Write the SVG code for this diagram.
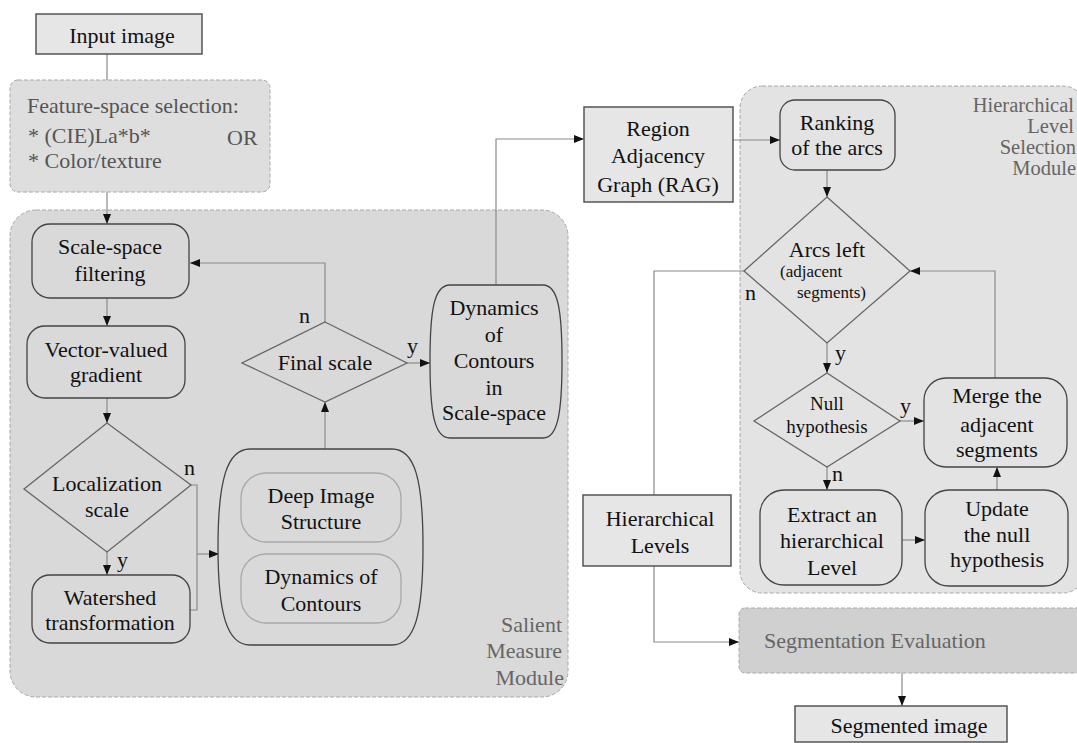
<svg xmlns="http://www.w3.org/2000/svg" width="1077" height="743" viewBox="0 0 1077 743" font-family="'Liberation Serif', 'Times New Roman', serif">
<defs>
<marker id="ah" markerWidth="10" markerHeight="8" refX="10" refY="4" orient="auto" markerUnits="userSpaceOnUse">
<path d="M0,0 L10,4 L0,8 Z" fill="#111"/>
</marker>
<style>
text{font-family:'Liberation Serif','Times New Roman',serif;font-size:22px;fill:#111;text-anchor:middle}
.mod{fill:#666}
.lbl{text-anchor:start}
.plain{fill:#e6e6e6;stroke:#555;stroke-width:1.5}
.cont{stroke:#a8a8a8;stroke-width:1;stroke-dasharray:4 2}
.proc{fill:#d9d9d9;stroke:#444;stroke-width:1.3}
.proc2{fill:#e3e3e3;stroke:#444;stroke-width:1.3}
.inner{fill:#d9d9d9;stroke:#a8a8a8;stroke-width:1.3}
.dia{fill:none;stroke:#666;stroke-width:1.3}
.conn{fill:none;stroke:#8a8a8a;stroke-width:1.2}
</style>
</defs>
<rect width="1077" height="743" fill="#ffffff"/>
<g font-family="'Liberation Serif', 'Times New Roman', serif" font-size="22" text-anchor="middle" fill="#111">

<g id="salient-module">
<rect class="cont" x="10" y="210" width="558" height="487" rx="26" fill="#d9d9d9"/>
<text class="mod" x="562" y="632" text-anchor="end" style="text-anchor:end">Salient</text>
<text class="mod" x="562" y="658" text-anchor="end" style="text-anchor:end">Measure</text>
<text class="mod" x="564" y="685" text-anchor="end" style="text-anchor:end">Module</text>
</g>
<g id="hier-module">
<rect class="cont" x="740" y="86" width="345" height="507" rx="22" fill="#e3e3e3"/>
<text class="mod" x="1074" y="112" text-anchor="end" style="text-anchor:end;font-size:20.5px">Hierarchical</text>
<text class="mod" x="1074" y="133" text-anchor="end" style="text-anchor:end;font-size:20.5px">Level</text>
<text class="mod" x="1076" y="154" text-anchor="end" style="text-anchor:end;font-size:20.5px">Selection</text>
<text class="mod" x="1076" y="175" text-anchor="end" style="text-anchor:end;font-size:20.5px">Module</text>
</g>

<g id="connectors">
<path class="conn" d="M107,54 V80"/>
<path class="conn" d="M107,192 V224" marker-end="url(#ah)"/>
<path class="conn" d="M107,298 V326" marker-end="url(#ah)"/>
<path class="conn" d="M107,398 V423" marker-end="url(#ah)"/>
<path class="conn" d="M107,552 V575" marker-end="url(#ah)"/>
<path class="conn" d="M191,485 H197 V610 H190"/>
<path class="conn" d="M197,554 H219" marker-end="url(#ah)"/>
<path class="conn" d="M325,449 V402" marker-end="url(#ah)"/>
<path class="conn" d="M325,322 V263 H190" marker-end="url(#ah)"/>
<path class="conn" d="M407,363 H430" marker-end="url(#ah)"/>
<path class="conn" d="M496,285 V139 H584" marker-end="url(#ah)"/>
<path class="conn" d="M733,140 H780" marker-end="url(#ah)"/>
<path class="conn" d="M827,170 V197" marker-end="url(#ah)"/>
<path class="conn" d="M744,271 H654 V642 H739" marker-end="url(#ah)"/>
<path class="conn" d="M827,343 V373" marker-end="url(#ah)"/>
<path class="conn" d="M900,421 H924" marker-end="url(#ah)"/>
<path class="conn" d="M995,378 V271 H910" marker-end="url(#ah)"/>
<path class="conn" d="M827,467 V490" marker-end="url(#ah)"/>
<path class="conn" d="M902,540 H925" marker-end="url(#ah)"/>
<path class="conn" d="M997,490 V467" marker-end="url(#ah)"/>
<path class="conn" d="M902,673 V706" marker-end="url(#ah)"/>
</g>

<g id="input-image">
<rect class="plain" x="36" y="14" width="166" height="40"/>
<text x="122" y="43">Input image</text>
</g>

<g id="feature-space">
<rect class="cont" x="10" y="80" width="260" height="112" rx="8" fill="#dedede"/>
<text x="27" y="113" text-anchor="start" style="text-anchor:start;fill:#555">Feature-space selection:</text>
<text x="28" y="143" text-anchor="start" style="text-anchor:start;fill:#555">* (CIE)La*b*</text>
<text x="227" y="145" text-anchor="start" style="text-anchor:start;fill:#555">OR</text>
<text x="28" y="168" text-anchor="start" style="text-anchor:start;fill:#555">* Color/texture</text>
</g>

<g id="scale-space-filtering">
<rect class="proc" x="32" y="224" width="157" height="74" rx="18"/>
<text x="110" y="254">Scale-space</text>
<text x="110" y="281">filtering</text>
</g>

<g id="vector-valued-gradient">
<rect class="proc" x="27" y="326" width="158" height="72" rx="18"/>
<text x="106" y="357">Vector-valued</text>
<text x="106" y="382">gradient</text>
</g>

<g id="localization-scale">
<polygon class="dia" points="107,423 191,485 107,552 24,489"/>
<text x="107" y="491">Localization</text>
<text x="107" y="517">scale</text>
<text class="lbl" x="184" y="475" text-anchor="start">n</text>
<text class="lbl" x="117" y="567" text-anchor="start">y</text>
</g>

<g id="watershed">
<rect class="proc" x="32" y="575" width="158" height="68" rx="18"/>
<text x="110" y="605">Watershed</text>
<text x="110" y="630">transformation</text>
</g>

<g id="deep-structure-group">
<path class="proc" d="M250,449 H392 C415,449 423,480 423,547 C423,614 415,645 392,645 H250 C227,645 218,614 218,547 C218,480 227,449 250,449 Z"/>
</g>
<g id="deep-image-structure">
<rect class="inner" x="241" y="473" width="160" height="69" rx="25"/>
<text x="321" y="503">Deep Image</text>
<text x="321" y="529">Structure</text>
</g>
<g id="dynamics-of-contours">
<rect class="inner" x="241" y="554" width="160" height="69" rx="25"/>
<text x="321" y="584">Dynamics of</text>
<text x="321" y="611">Contours</text>
</g>

<g id="final-scale">
<polygon class="dia" points="325,322 407,363 325,402 242,363"/>
<text x="325" y="370">Final scale</text>
<text class="lbl" x="299" y="323" text-anchor="start">n</text>
<text class="lbl" x="407" y="353" text-anchor="start">y</text>
</g>

<g id="dynamics-scale-space">
<path class="proc" d="M450,285 H543 C558,285 562,310 562,361 C562,412 558,438 543,438 H450 C434,438 430,412 430,361 C430,310 434,285 450,285 Z"/>
<text x="494" y="315">Dynamics</text>
<text x="494" y="342">of</text>
<text x="494" y="368">Contours</text>
<text x="494" y="395">in</text>
<text x="494" y="420">Scale-space</text>
</g>

<g id="rag">
<rect class="plain" x="584" y="107" width="149" height="95"/>
<text x="658" y="136">Region</text>
<text x="658" y="163">Adjacency</text>
<text x="658" y="192">Graph (RAG)</text>
</g>

<g id="ranking">
<rect class="proc2" x="780" y="100" width="115" height="70" rx="15"/>
<text x="837" y="130">Ranking</text>
<text x="837" y="155">of the arcs</text>
</g>

<g id="arcs-left">
<polygon class="dia" points="827,197 910,271 827,343 744,271"/>
<text x="827" y="257">Arcs left</text>
<text x="780" y="277" text-anchor="start" style="font-size:17px;text-anchor:start">(adjacent</text>
<text x="797" y="298" text-anchor="start" style="font-size:17px;text-anchor:start">segments)</text>
<text class="lbl" x="745" y="300" text-anchor="start">n</text>
<text class="lbl" x="835" y="360" text-anchor="start">y</text>
</g>

<g id="null-hypothesis">
<polygon class="dia" points="827,373 900,421 827,467 754,421"/>
<text x="827" y="410" style="font-size:19px">Null</text>
<text x="827" y="433" style="font-size:19px">hypothesis</text>
<text class="lbl" x="900" y="413" text-anchor="start">y</text>
<text class="lbl" x="832" y="481" text-anchor="start">n</text>
</g>

<g id="merge">
<rect class="proc2" x="924" y="378" width="143" height="89" rx="22"/>
<text x="997" y="403">Merge the</text>
<text x="997" y="432">adjacent</text>
<text x="997" y="457">segments</text>
</g>

<g id="extract">
<rect class="proc2" x="760" y="490" width="142" height="95" rx="24"/>
<text x="832" y="522">Extract an</text>
<text x="832" y="548">hierarchical</text>
<text x="832" y="575">Level</text>
</g>

<g id="update">
<rect class="proc2" x="925" y="490" width="143" height="96" rx="24"/>
<text x="997" y="516">Update</text>
<text x="997" y="542">the null</text>
<text x="997" y="567">hypothesis</text>
</g>

<g id="hierarchical-levels">
<rect class="plain" x="583" y="495" width="148" height="71"/>
<text x="660" y="526">Hierarchical</text>
<text x="660" y="553">Levels</text>
</g>

<g id="segmentation-evaluation">
<rect class="cont" x="739" y="608" width="345" height="65" rx="6" fill="#d0d0d0"/>
<text class="mod" x="764" y="648" text-anchor="start" style="text-anchor:start">Segmentation Evaluation</text>
</g>

<g id="segmented-image">
<rect class="plain" x="795" y="706" width="212" height="36"/>
<text x="909" y="733">Segmented image</text>
</g>
</g>
</svg>
